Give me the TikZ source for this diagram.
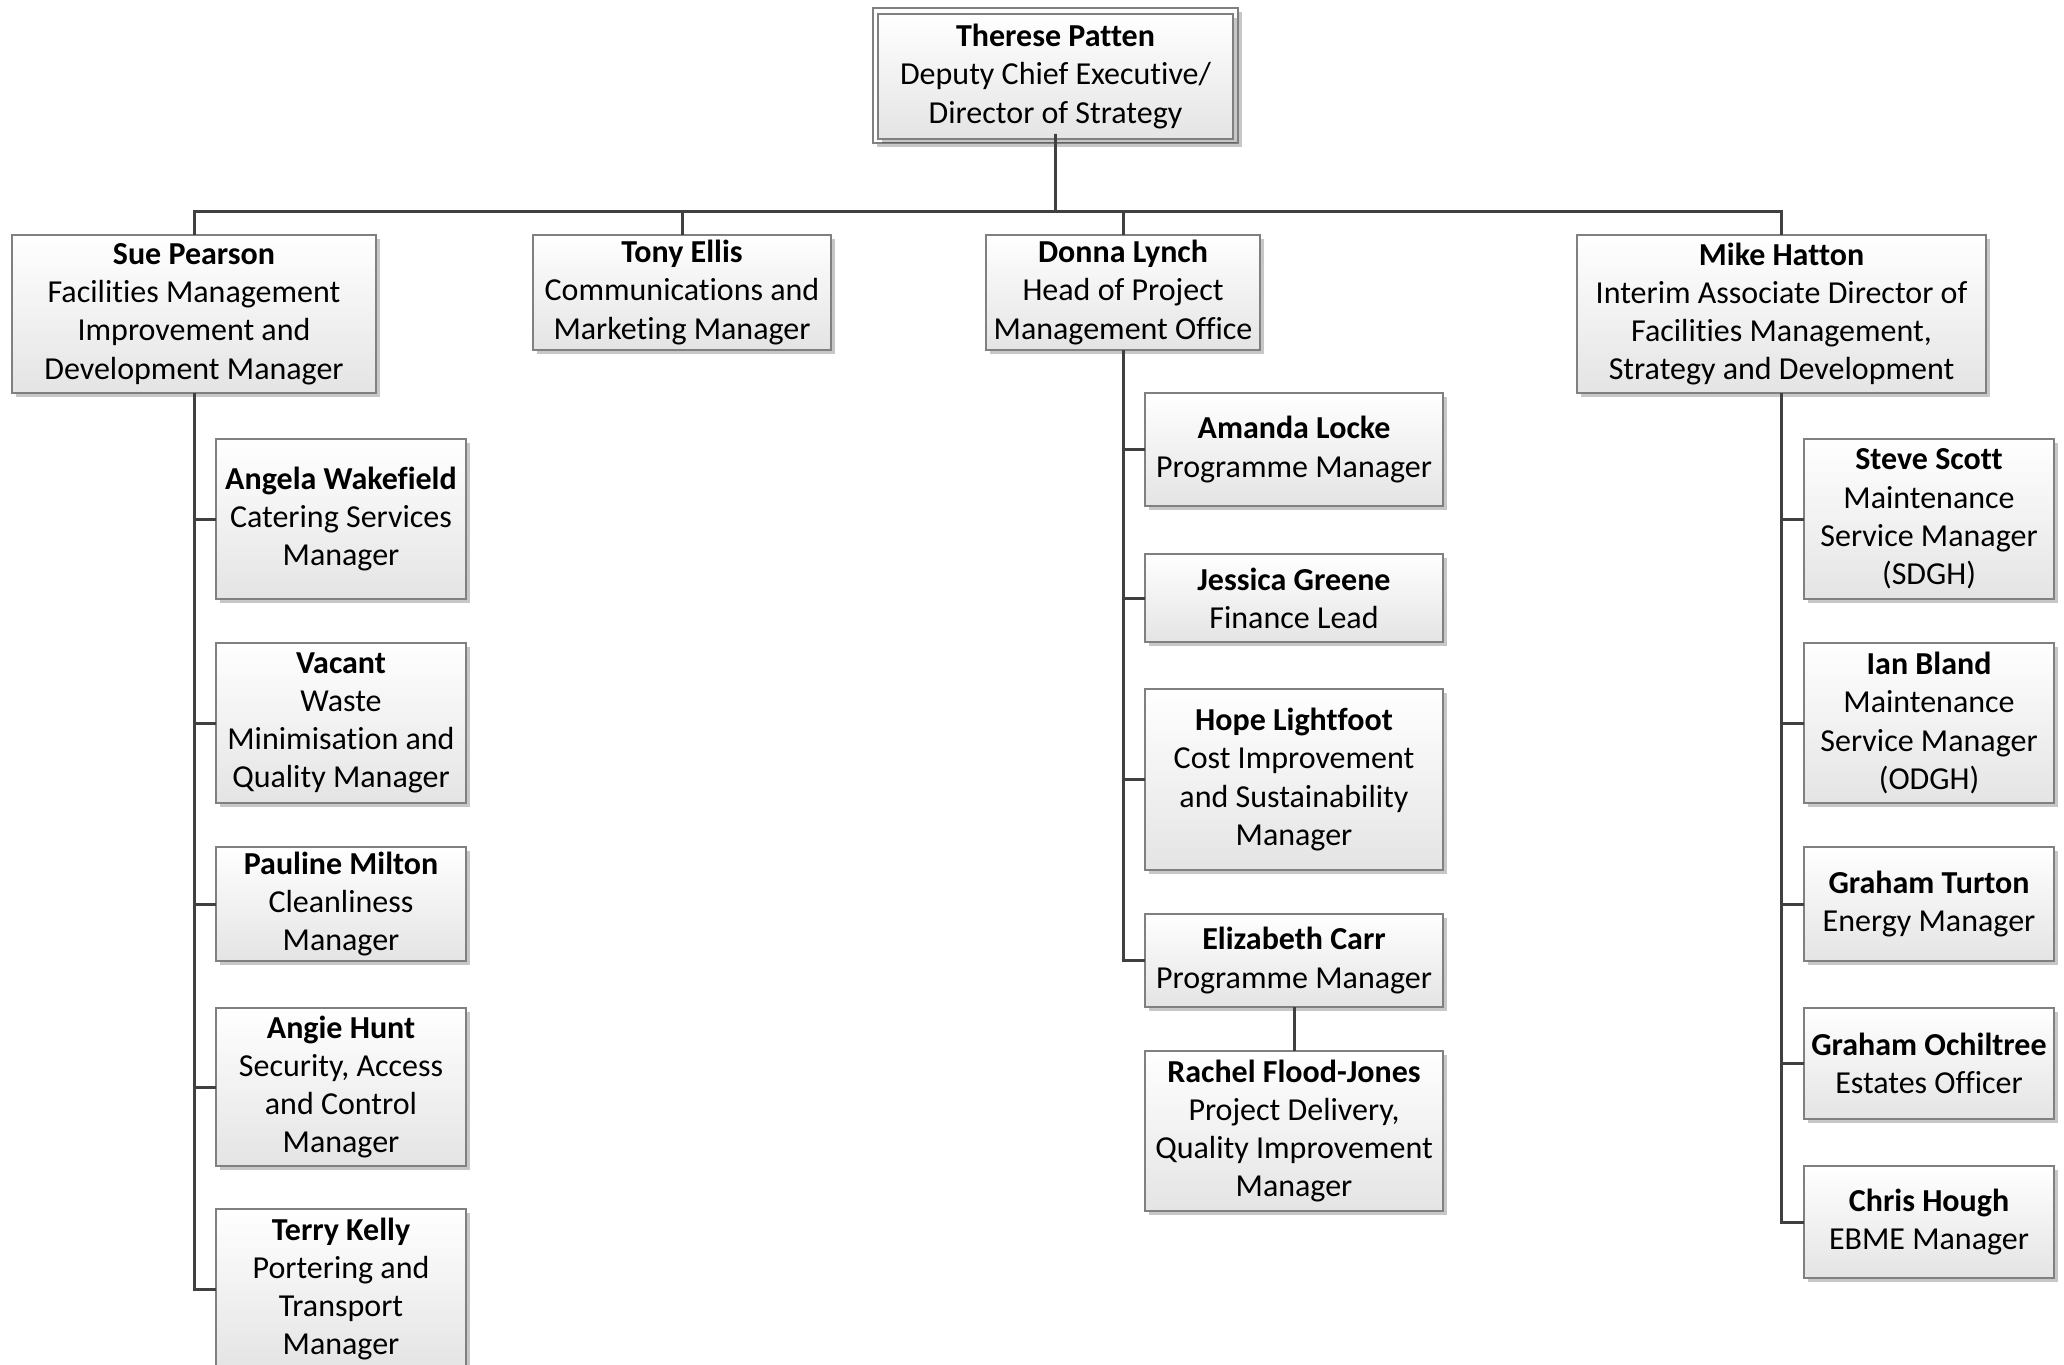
\documentclass[tikz,border=0pt]{standalone}
\usepackage{fontspec}
\setmainfont[Ligatures={NoCommon}]{Carlito}
\usetikzlibrary{shadows}
\definecolor{boxbot}{RGB}{228,228,228}
\definecolor{boxline}{RGB}{128,128,128}
\definecolor{conline}{RGB}{64,64,64}
\tikzset{
  obox/.style={draw=boxline, line width=0.75pt, top color=white, bottom color=boxbot,
    align=center, inner sep=0pt, outer sep=0pt,
    font=\fontsize{16pt}{19.1pt}\selectfont,
    drop shadow={shadow xshift=2pt, shadow yshift=-2pt, fill=black, opacity=0.22}},
  topframe/.style={draw=boxline, line width=0.75pt, fill=white,
    drop shadow={shadow xshift=2pt, shadow yshift=-2pt, fill=black, opacity=0.22}},
  conn/.style={draw=conline, line width=1.5pt}
}
\newcommand\orgbox[6]{\node[obox, minimum width={(#4-#2)*0.5pt}, minimum height={(#5-#3)*0.5pt}] (#1) at ({(#2+#4)/2},{(#3+#5)/2+1}) {#6};}
\begin{document}
\begin{tikzpicture}[x=0.5pt,y=-0.5pt]
\useasboundingbox (0,0) rectangle (2064,1364);
\begin{scope}
\clip (0,0) rectangle (2064,1364);
% top
\path[topframe] (873,8) rectangle (1238,143);
\node[obox, drop shadow={opacity=0}, minimum width={355*0.5pt}, minimum height={125*0.5pt}] (tp) at (1055.5,76.5) {\textbf{Therese Patten}\\Deputy Chief Executive/\\Director of Strategy};
\coordinate (bus) at (0,212);
% second level
\orgbox{sp}{12}{234}{376}{392}{\textbf{Sue Pearson}\\Facilities Management\\Improvement and\\Development Manager}
\orgbox{te}{533}{234}{831}{349}{\textbf{Tony Ellis}\\Communications and\\Marketing Manager}
\orgbox{dl}{986}{234}{1260}{349}{\textbf{Donna Lynch}\\Head of Project\\Management Office}
\orgbox{mh}{1577}{234}{1986}{392}{\textbf{Mike Hatton}\\Interim Associate Director of\\Facilities Management,\\Strategy and Development}
% Sue's team
\orgbox{aw}{216}{438}{466}{598}{\textbf{Angela Wakefield}\\Catering Services\\Manager}
\orgbox{va}{216}{642}{466}{802}{\textbf{Vacant}\\Waste\\Minimisation and\\Quality Manager}
\orgbox{pm}{216}{846}{466}{960}{\textbf{Pauline Milton}\\Cleanliness\\Manager}
\orgbox{ah}{216}{1007}{466}{1165}{\textbf{Angie Hunt}\\Security, Access\\and Control\\Manager}
\orgbox{tk}{216}{1208}{466}{1368}{\textbf{Terry Kelly}\\Portering and\\Transport\\Manager}
% Donna's team
\orgbox{al}{1145}{392}{1443}{505}{\textbf{Amanda Locke}\\Programme Manager}
\orgbox{jg}{1145}{553}{1443}{641}{\textbf{Jessica Greene}\\Finance Lead}
\orgbox{hl}{1145}{688}{1443}{869}{\textbf{Hope Lightfoot}\\Cost Improvement\\and Sustainability\\Manager}
\orgbox{ec}{1145}{913}{1443}{1006}{\textbf{Elizabeth Carr}\\Programme Manager}
\orgbox{rf}{1145}{1050}{1443}{1210}{\textbf{Rachel Flood-Jones}\\Project Delivery,\\Quality Improvement\\Manager}
% Mike's team
\orgbox{ss}{1804}{438}{2054}{598}{\textbf{Steve Scott}\\Maintenance\\Service Manager\\(SDGH)}
\orgbox{ib}{1804}{642}{2054}{802}{\textbf{Ian Bland}\\Maintenance\\Service Manager\\(ODGH)}
\orgbox{gt}{1804}{846}{2054}{960}{\textbf{Graham Turton}\\Energy Manager}
\orgbox{go}{1804}{1007}{2054}{1118}{\textbf{Graham Ochiltree}\\Estates Officer}
\orgbox{ch}{1804}{1165}{2054}{1277}{\textbf{Chris Hough}\\EBME Manager}
% connectors
\draw[conn] (tp.south) -- ++(0,-5) -- (tp.south |- bus) -| (sp.north);
\draw[conn] (tp.south |- bus) -| (te.north);
\draw[conn] (tp.south |- bus) -| (dl.north);
\draw[conn] (tp.south |- bus) -| (mh.north);
\foreach \c in {aw,va,pm,ah,tk} \draw[conn] (sp.south) |- (\c.west);
\foreach \c in {al,jg,hl,ec} \draw[conn] (dl.south) |- (\c.west);
\foreach \c in {ss,ib,gt,go,ch} \draw[conn] (mh.south) |- (\c.west);
\draw[conn] (ec.south) -- (rf.north);
\end{scope}
\end{tikzpicture}
\end{document}
